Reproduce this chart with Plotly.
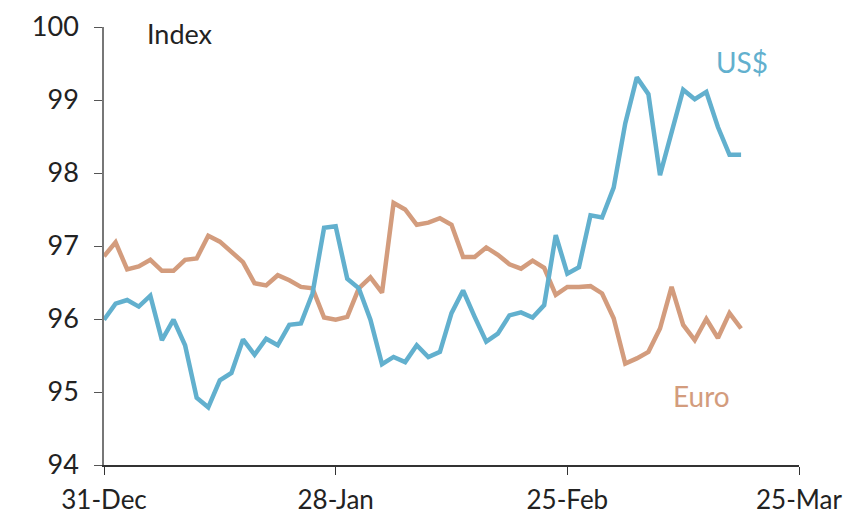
import plotly.graph_objects as go

x_idx = list(range(56))
tick_vals = [0, 20, 40, 60]
tick_text = ["31-Dec", "28-Jan", "25-Feb", "25-Mar"]

usd = [95.99, 96.21, 96.26, 96.17, 96.32, 95.71, 95.99, 95.64, 94.92, 94.79,
       95.16, 95.26, 95.72, 95.51, 95.73, 95.64, 95.92, 95.94, 96.35, 97.25,
       97.27, 96.55, 96.42, 95.99, 95.38, 95.48, 95.41, 95.64, 95.48, 95.55,
       96.08, 96.39, 96.03, 95.69, 95.80, 96.05, 96.09, 96.02, 96.19, 97.15,
       96.62, 96.71, 97.42, 97.39, 97.80, 98.68, 99.31, 99.08, 97.97, 98.54,
       99.14, 99.01, 99.11, 98.63, 98.25, 98.25]

euro = [96.86, 97.05, 96.68, 96.72, 96.81, 96.66, 96.66, 96.81, 96.83, 97.14,
        97.06, 96.92, 96.78, 96.49, 96.46, 96.60, 96.53, 96.44, 96.42, 96.02,
        95.99, 96.03, 96.42, 96.57, 96.36, 97.59, 97.50, 97.29, 97.32, 97.38,
        97.29, 96.85, 96.85, 96.98, 96.88, 96.75, 96.69, 96.80, 96.70, 96.33,
        96.44, 96.44, 96.45, 96.35, 96.01, 95.39, 95.46, 95.55, 95.87, 96.44,
        95.92, 95.71, 96.00, 95.74, 96.08, 95.87]

BLUE = "#62B0CE"
ORANGE = "#D39C7D"
FONT = "Lato"

plot_w = 851 - 104 - 52
plot_h = 517 - 27 - 52

fig = go.Figure()
fig.add_trace(go.Scatter(x=x_idx, y=euro, mode="lines", name="Euro",
                         line=dict(color=ORANGE, width=4.5)))
fig.add_trace(go.Scatter(x=x_idx, y=usd, mode="lines", name="US$",
                         line=dict(color=BLUE, width=4.5)))

fig.update_layout(
    width=851, height=517,
    margin=dict(l=104, r=52, t=27, b=52),
    paper_bgcolor="white", plot_bgcolor="white",
    showlegend=False,
    font=dict(family=FONT, size=27, color="#222"),
    xaxis=dict(range=[0, 60], tickvals=tick_vals, ticktext=tick_text,
               showgrid=False, zeroline=False, showline=True,
               linecolor="#333", linewidth=1.5, ticks="outside",
               ticklen=8, tickcolor="#333", ticklabelstandoff=3,
               automargin=False,
               tickfont=dict(size=26, color="#222")),
    yaxis=dict(range=[94, 100], dtick=1, showgrid=False, zeroline=False,
               showline=True, linecolor="#777", linewidth=1.5,
               ticks="outside", ticklen=8, tickcolor="#555",
               ticklabelstandoff=10, automargin=False,
               tickfont=dict(size=27, color="#222")),
    annotations=[
        dict(text="Index", x=(145 - 104) / plot_w, y=1 - (33 - 27) / plot_h,
             xref="paper", yref="paper",
             xanchor="left", yanchor="middle", showarrow=False,
             font=dict(size=27, color="#222", family=FONT)),
        dict(text="US$", x=55.1, y=99.52, xref="x", yref="y",
             xanchor="center", yanchor="middle", showarrow=False,
             font=dict(size=28, color=BLUE, family=FONT)),
        dict(text="Euro", x=51.6, y=94.95, xref="x", yref="y",
             xanchor="center", yanchor="middle", showarrow=False,
             font=dict(size=28, color=ORANGE, family=FONT)),
    ],
)

fig.write_html("out.html")
